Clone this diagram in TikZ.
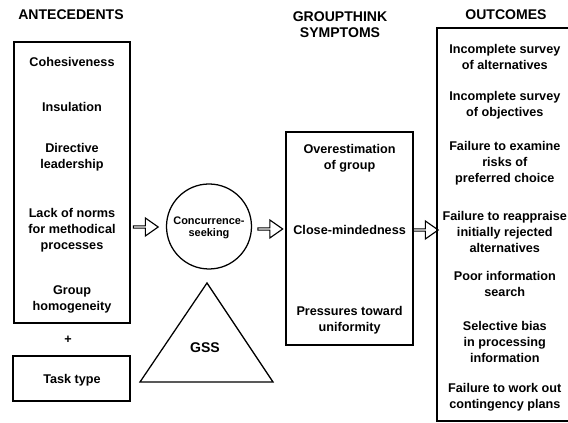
\documentclass[tikz,border=0pt]{standalone}
\usepackage{fontspec}
\setmainfont{Liberation Sans}
\usepackage{tikz}
\usetikzlibrary{shapes,arrows,positioning}
\usepackage{xcolor}

\begin{document}
\begin{tikzpicture}
      \tikzstyle{panel} = [rectangle, draw, line width=0.9pt, inner sep=0pt]
      \tikzstyle{item} = [align=center, inner sep=1pt, font=\bfseries\fontsize{9}{11.4}\selectfont]
      \tikzstyle{heading} = [align=center, inner sep=1pt, font=\bfseries\fontsize{10}{11.4}\selectfont]
      \tikzstyle{flow} = [single arrow, draw, line width=0.8pt, inner sep=0pt, minimum height=0.62cm, minimum width=0.45cm, single arrow head extend=0.1cm, single arrow tip angle=70]

      \useasboundingbox (0,0) rectangle (14.2,10.575);

      % column headings
      \node[heading] (hante) at (1.775,10.2) {ANTECEDENTS};
      \node[heading] (hsymp) at (8.5,9.95) {GROUPTHINK\\SYMPTOMS};
      \node[heading] (houtc) at (12.65,10.2) {OUTCOMES};

      % antecedents
      \node[panel, minimum width=2.9cm, minimum height=7.025cm] (ante) at (1.8,6.0125) {};
      \node[item] (a1) at (1.8,9.025) {Cohesiveness};
      \node[item] (a2) at (1.8,7.9) {Insulation};
      \node[item] (a3) at (1.8,6.65) {Directive\\leadership};
      \node[item] (a4) at (1.8,4.825) {Lack of norms\\for methodical\\processes};
      \node[item] (a5) at (1.8,3.1) {Group\\homogeneity};
      \node[item] (plus) at (1.7,2.075) {+};
      \node[panel, minimum width=2.925cm, minimum height=1.125cm] (task) at (1.7875,1.1125) {};
      \node[item] (tasktxt) at (1.8,1.075) {Task type};

      % concurrence-seeking and GSS
      \node[circle, draw, line width=0.9pt, minimum size=2.125cm, inner sep=0pt] (concur) at (5.225,4.9125) {};
      \node[align=center, inner sep=0pt, font=\bfseries\fontsize{7.8}{8.6}\selectfont] (concurtxt) at (5.225,4.875) {Concurrence-\\seeking};
      \coordinate (gtop) at (5.175,3.5);
      \coordinate (gleft) at (3.5,1.025);
      \coordinate (gright) at (6.825,1.025);
      \draw[line width=0.9pt, line join=miter] (gleft) -- (gtop) -- (gright) -- cycle;
      \node[heading] (gss) at (5.125,1.875) {GSS};

      % symptoms
      \node[panel, minimum width=3.175cm, minimum height=5.325cm] (symp) at (8.7375,4.6125) {};
      \node[item] (s1) at (8.74,6.625) {Overestimation\\of group};
      \node[item] (s2) at (8.74,4.825) {Close-mindedness};
      \node[item] (s3) at (8.74,2.575) {Pressures toward\\uniformity};

      % outcomes
      \node[panel, minimum width=3.475cm, minimum height=9.825cm] (outc) at (12.6625,4.9625) {};
      \node[item] (o1) at (12.62,9.15) {Incomplete survey\\of alternatives};
      \node[item] (o2) at (12.62,7.95) {Incomplete survey\\of objectives};
      \node[item] (o3) at (12.62,6.5) {Failure to examine\\risks of\\preferred choice};
      \node[item] (o4) at (12.62,4.775) {Failure to reappraise\\initially rejected\\alternatives};
      \node[item] (o5) at (12.62,3.475) {Poor information\\search};
      \node[item] (o6) at (12.62,2.025) {Selective bias\\in processing\\information};
      \node[item] (o7) at (12.62,0.65) {Failure to work out\\contingency plans};

      % block arrows between the stages
      \node[flow] (f1) at (3.625,4.9) {};
      \node[flow] (f2) at (6.7375,4.85) {};
      \node[flow] (f3) at (10.625,4.825) {};
    \end{tikzpicture}
\end{document}
